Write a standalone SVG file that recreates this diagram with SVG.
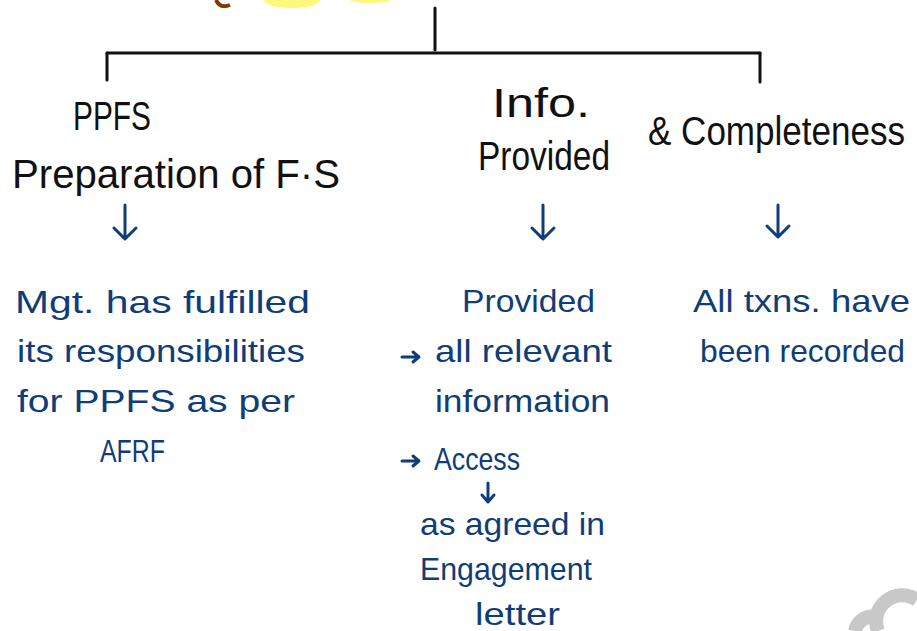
<svg xmlns="http://www.w3.org/2000/svg" width="917" height="631" viewBox="0 0 917 631">
<style>
.blk{font-family:"Liberation Sans",Arial,sans-serif;fill:#111;font-size:40px}
.blu{font-family:"Liberation Sans",Arial,sans-serif;fill:#0f3d78;font-size:32px}
.ln{stroke:#111;stroke-width:3;fill:none;stroke-linecap:round}
.ar{stroke:#0f3d78;stroke-width:3;fill:none;stroke-linecap:round;stroke-linejoin:round}
</style>
<rect width="917" height="631" fill="#fff"/>
<g id="title-fragment">
<ellipse cx="292" cy="0" rx="28" ry="8" fill="#fdf97a"/>
<ellipse cx="370" cy="0" rx="20" ry="3" fill="#fdf97a"/>
<path d="M216,0 Q220,9 230,5" stroke="#7a3d00" stroke-width="4" fill="none"/>
</g>
<g id="connectors">
<path class="ln" d="M435,8 V50"/>
<path class="ln" d="M107,53 H760"/>
<path class="ln" d="M107,53 V80"/>
<path class="ln" d="M760,53 V82"/>
<path class="ar" d="M125,205 V238 M114,228 L125,239 L136,228"/>
<path class="ar" d="M543,205 V238 M532,228 L543,239 L554,228"/>
<path class="ar" d="M778,205 V236 M767,226 L778,237 L789,226"/>
<path class="ar" d="M488,483 V501 M482,495 L488,502 L494,495" stroke-width="2"/>
<path class="ar" d="M402,357 H418 M413,352 L419,357 L413,362" stroke-width="2"/>
<path class="ar" d="M402,461 H418 M413,456 L419,461 L413,466" stroke-width="2"/>
</g>
<g id="node-ppfs">
<text class="blk" x="73" y="130" textLength="78" lengthAdjust="spacingAndGlyphs">PPFS</text>
<text class="blk" x="12" y="188" textLength="328" lengthAdjust="spacingAndGlyphs">Preparation of F·S</text>
</g>
<g id="node-info">
<text class="blk" x="492" y="117" textLength="98" lengthAdjust="spacingAndGlyphs">Info.</text>
<text class="blk" x="478" y="170" textLength="132" lengthAdjust="spacingAndGlyphs">Provided</text>
</g>
<g id="node-completeness">
<text class="blk" x="648" y="145" textLength="257" lengthAdjust="spacingAndGlyphs">&amp; Completeness</text>
</g>
<g id="node-mgt">
<text class="blu" x="15" y="313" textLength="295" lengthAdjust="spacingAndGlyphs">Mgt. has fulfilled</text>
<text class="blu" x="17" y="362" textLength="288" lengthAdjust="spacingAndGlyphs">its responsibilities</text>
<text class="blu" x="17" y="412" textLength="278" lengthAdjust="spacingAndGlyphs">for PPFS as per</text>
<text class="blu" x="100" y="462" textLength="65" lengthAdjust="spacingAndGlyphs">AFRF</text>
</g>
<g id="node-provided">
<text class="blu" x="462" y="312" textLength="133" lengthAdjust="spacingAndGlyphs">Provided</text>
<text class="blu" x="435" y="362" textLength="177" lengthAdjust="spacingAndGlyphs">all relevant</text>
<text class="blu" x="435" y="412" textLength="175" lengthAdjust="spacingAndGlyphs">information</text>
<text class="blu" x="434" y="470" textLength="86" lengthAdjust="spacingAndGlyphs">Access</text>
<text class="blu" x="420" y="535" textLength="185" lengthAdjust="spacingAndGlyphs">as agreed in</text>
<text class="blu" x="420" y="580" textLength="172" lengthAdjust="spacingAndGlyphs">Engagement</text>
<text class="blu" x="475" y="625" textLength="85" lengthAdjust="spacingAndGlyphs">letter</text>
</g>
<g id="node-txns">
<text class="blu" x="693" y="312" textLength="217" lengthAdjust="spacingAndGlyphs">All txns. have</text>
<text class="blu" x="700" y="362" textLength="205" lengthAdjust="spacingAndGlyphs">been recorded</text>
</g>
<g id="watermark">
<path d="M878,631 A26,26 0 0 1 917,600" stroke="#c8c8c8" stroke-width="14" fill="none"/>
<path d="M855,631 A18,18 0 0 1 880,618" stroke="#c8c8c8" stroke-width="14" fill="none"/>
</g>
</svg>
